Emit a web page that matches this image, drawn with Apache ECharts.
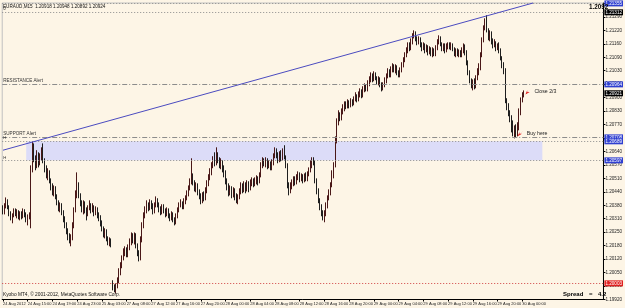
<!DOCTYPE html>
<html><head><meta charset="utf-8">
<script src="https://cdn.jsdelivr.net/npm/echarts@6/dist/echarts.min.js"></script>
<style>html,body{margin:0;padding:0;background:#fdf5e6;}#c{width:625px;height:308px;}</style>
</head><body><div id="c"></div>
<script>
const symbolName = 'EURAUD,M15';
const xTickLabels = ['24 Aug 2012','24 Aug 15:00','24 Aug 19:00','24 Aug 23:00','25 Aug 03:00','27 Aug 08:00','27 Aug 12:00','27 Aug 16:00','27 Aug 20:00','28 Aug 00:00','28 Aug 04:00','28 Aug 08:00','28 Aug 12:00','28 Aug 16:00','28 Aug 20:00','29 Aug 00:00','29 Aug 04:00','29 Aug 08:00','29 Aug 12:00','29 Aug 16:00','29 Aug 20:00','30 Aug 00:00'];
const barsPerLabel = 16;
const totalSlots = 389;
const yTickLabels = ['1.19920','1.19990','1.20050','1.20120','1.20180','1.20250','1.20310','1.20380','1.20440','1.20510','1.20570','1.20640','1.20700','1.20770','1.20830','1.20900','1.20960','1.21030','1.21090','1.21160','1.21220','1.21290','1.21350'];
const yMin = 1.19925, yMax = 1.21357, yStep = 0.00065;

const opens = [1.20365,1.20346,1.20375,1.20399,1.20370,1.20341,1.20317,1.20332,1.20356,1.20336,1.20346,1.20322,1.20341,1.20327,1.20351,1.20336,1.20312,1.20327,1.20336,1.20549,
1.20646,1.20607,1.20573,1.20621,1.20588,1.20612,1.20636,1.20597,1.20559,1.20525,1.20539,1.20501,1.20472,1.20443,1.20462,1.20423,1.20394,1.20365,1.20380,1.20346,
1.20317,1.20283,1.20259,1.20230,1.20211,1.20220,1.20283,1.20356,1.20428,1.20476,1.20428,1.20390,1.20365,1.20385,1.20356,1.20336,1.20365,1.20380,1.20356,1.20370,
1.20346,1.20361,1.20336,1.20317,1.20298,1.20269,1.20240,1.20254,1.20220,1.20201,1.20211,1.20008,1.19989,1.19974,1.19993,1.20018,1.20056,1.20090,1.20124,1.20153,
1.20163,1.20143,1.20172,1.20201,1.20230,1.20211,1.20235,1.20187,1.20153,1.20124,1.20211,1.20283,1.20332,1.20356,1.20380,1.20365,1.20394,1.20375,1.20356,1.20380,
1.20404,1.20385,1.20365,1.20346,1.20370,1.20356,1.20336,1.20356,1.20332,1.20317,1.20336,1.20312,1.20298,1.20327,1.20356,1.20380,1.20390,1.20370,1.20394,1.20414,
1.20433,1.20462,1.20491,1.20520,1.20491,1.20462,1.20476,1.20443,1.20423,1.20404,1.20428,1.20414,1.20452,1.20481,1.20510,1.20539,1.20568,1.20597,1.20583,1.20621,
1.20597,1.20573,1.20588,1.20559,1.20539,1.20501,1.20472,1.20443,1.20462,1.20433,1.20452,1.20423,1.20404,1.20418,1.20447,1.20472,1.20452,1.20476,1.20457,1.20481,
1.20462,1.20486,1.20501,1.20481,1.20496,1.20510,1.20496,1.20525,1.20568,1.20597,1.20578,1.20597,1.20568,1.20583,1.20559,1.20583,1.20617,1.20646,1.20621,1.20597,
1.20626,1.20607,1.20636,1.20612,1.20573,1.20476,1.20452,1.20472,1.20486,1.20510,1.20491,1.20510,1.20525,1.20505,1.20520,1.20501,1.20520,1.20505,1.20530,1.20549,
1.20573,1.20597,1.20588,1.20501,1.20452,1.20404,1.20375,1.20346,1.20317,1.20336,1.20380,1.20414,1.20443,1.20476,1.20525,1.20573,1.20694,1.20781,1.20815,1.20800,
1.20829,1.20848,1.20868,1.20858,1.20877,1.20863,1.20882,1.20873,1.20892,1.20906,1.20892,1.20911,1.20926,1.20911,1.20935,1.20955,1.20940,1.20964,1.20984,1.21003,
1.20988,1.21008,1.20993,1.20974,1.20988,1.20964,1.20945,1.20959,1.20984,1.21003,1.21022,1.21008,1.21032,1.21051,1.21032,1.21042,1.21022,1.21008,1.21032,1.21056,
1.21080,1.21104,1.21129,1.21153,1.21138,1.21167,1.21196,1.21211,1.21186,1.21167,1.21182,1.21157,1.21138,1.21153,1.21129,1.21143,1.21119,1.21133,1.21114,1.21129,
1.21109,1.21138,1.21167,1.21186,1.21157,1.21138,1.21153,1.21129,1.21148,1.21157,1.21143,1.21153,1.21133,1.21114,1.21129,1.21109,1.21119,1.21104,1.21129,1.21148,
1.21119,1.21071,1.21022,1.20984,1.20959,1.20974,1.20955,1.20993,1.21022,1.21042,1.21104,1.21177,1.21235,1.21264,1.21225,1.21186,1.21211,1.21177,1.21153,1.21167,
1.21138,1.21157,1.21129,1.21090,1.21056,1.21032,1.20887,1.20858,1.20829,1.20800,1.20761,1.20732,1.20752,1.20723,1.20761,1.20829,1.20887,1.20911];

const closes = [1.20346,1.20375,1.20399,1.20370,1.20341,1.20317,1.20332,1.20356,1.20336,1.20346,1.20322,1.20341,1.20327,1.20351,1.20336,1.20312,1.20327,1.20336,1.20549,1.20646,
1.20607,1.20573,1.20621,1.20588,1.20612,1.20636,1.20597,1.20559,1.20525,1.20539,1.20501,1.20472,1.20443,1.20462,1.20423,1.20394,1.20365,1.20380,1.20346,1.20317,
1.20283,1.20259,1.20230,1.20211,1.20220,1.20283,1.20356,1.20428,1.20476,1.20428,1.20390,1.20365,1.20385,1.20356,1.20336,1.20365,1.20380,1.20356,1.20370,1.20346,
1.20361,1.20336,1.20317,1.20298,1.20269,1.20240,1.20254,1.20220,1.20201,1.20211,1.20191,1.19989,1.19974,1.19993,1.20018,1.20056,1.20090,1.20124,1.20153,1.20163,
1.20143,1.20172,1.20201,1.20230,1.20211,1.20235,1.20187,1.20153,1.20124,1.20211,1.20283,1.20332,1.20356,1.20380,1.20365,1.20394,1.20375,1.20356,1.20380,1.20404,
1.20385,1.20365,1.20346,1.20370,1.20356,1.20336,1.20356,1.20332,1.20317,1.20336,1.20312,1.20298,1.20327,1.20356,1.20380,1.20390,1.20370,1.20394,1.20414,1.20433,
1.20462,1.20491,1.20520,1.20491,1.20462,1.20476,1.20443,1.20423,1.20404,1.20428,1.20414,1.20452,1.20481,1.20510,1.20539,1.20568,1.20597,1.20583,1.20621,1.20597,
1.20573,1.20588,1.20559,1.20539,1.20501,1.20472,1.20443,1.20462,1.20433,1.20452,1.20423,1.20404,1.20418,1.20447,1.20472,1.20452,1.20476,1.20457,1.20481,1.20462,
1.20486,1.20501,1.20481,1.20496,1.20510,1.20496,1.20525,1.20568,1.20597,1.20578,1.20597,1.20568,1.20583,1.20559,1.20583,1.20617,1.20646,1.20621,1.20597,1.20626,
1.20607,1.20636,1.20612,1.20573,1.20476,1.20452,1.20472,1.20486,1.20510,1.20491,1.20510,1.20525,1.20505,1.20520,1.20501,1.20520,1.20505,1.20530,1.20549,1.20573,
1.20597,1.20588,1.20501,1.20452,1.20404,1.20375,1.20346,1.20317,1.20336,1.20380,1.20414,1.20443,1.20476,1.20525,1.20573,1.20694,1.20781,1.20815,1.20800,1.20829,
1.20848,1.20868,1.20858,1.20877,1.20863,1.20882,1.20873,1.20892,1.20906,1.20892,1.20911,1.20926,1.20911,1.20935,1.20955,1.20940,1.20964,1.20984,1.21003,1.20988,
1.21008,1.20993,1.20974,1.20988,1.20964,1.20945,1.20959,1.20984,1.21003,1.21022,1.21008,1.21032,1.21051,1.21032,1.21042,1.21022,1.21008,1.21032,1.21056,1.21080,
1.21104,1.21129,1.21153,1.21138,1.21167,1.21196,1.21211,1.21186,1.21167,1.21182,1.21157,1.21138,1.21153,1.21129,1.21143,1.21119,1.21133,1.21114,1.21129,1.21109,
1.21138,1.21167,1.21186,1.21157,1.21138,1.21153,1.21129,1.21148,1.21157,1.21143,1.21153,1.21133,1.21114,1.21129,1.21109,1.21119,1.21104,1.21129,1.21148,1.21119,
1.21071,1.21022,1.20984,1.20959,1.20974,1.20955,1.20993,1.21022,1.21042,1.21104,1.21177,1.21235,1.21264,1.21225,1.21186,1.21211,1.21177,1.21153,1.21167,1.21138,
1.21157,1.21129,1.21090,1.21056,1.21032,1.20887,1.20858,1.20829,1.20800,1.20761,1.20732,1.20752,1.20723,1.20761,1.20829,1.20887,1.20911,1.20921];

const lows = [1.20336,1.20336,1.20365,1.20361,1.20327,1.20307,1.20293,1.20322,1.20327,1.20317,1.20312,1.20307,1.20312,1.20317,1.20322,1.20298,1.20283,1.20312,1.20269,1.20539,
1.20588,1.20549,1.20559,1.20563,1.20573,1.20597,1.20583,1.20539,1.20510,1.20501,1.20486,1.20452,1.20428,1.20423,1.20409,1.20380,1.20351,1.20346,1.20332,1.20298,
1.20269,1.20240,1.20211,1.20196,1.20182,1.20211,1.20269,1.20346,1.20414,1.20414,1.20375,1.20346,1.20336,1.20341,1.20307,1.20327,1.20356,1.20341,1.20346,1.20327,
1.20332,1.20317,1.20303,1.20278,1.20254,1.20225,1.20220,1.20206,1.20187,1.20182,1.20177,1.19969,1.19960,1.19955,1.19979,1.20003,1.20042,1.20076,1.20114,1.20134,
1.20129,1.20129,1.20163,1.20187,1.20196,1.20191,1.20172,1.20134,1.20109,1.20114,1.20201,1.20269,1.20317,1.20341,1.20351,1.20356,1.20361,1.20336,1.20341,1.20370,
1.20370,1.20346,1.20332,1.20336,1.20341,1.20322,1.20327,1.20317,1.20303,1.20307,1.20298,1.20283,1.20288,1.20317,1.20346,1.20370,1.20361,1.20361,1.20385,1.20404,
1.20423,1.20452,1.20481,1.20476,1.20447,1.20443,1.20428,1.20409,1.20385,1.20390,1.20399,1.20404,1.20438,1.20472,1.20501,1.20525,1.20559,1.20568,1.20573,1.20583,
1.20559,1.20554,1.20539,1.20515,1.20481,1.20452,1.20423,1.20428,1.20414,1.20418,1.20404,1.20390,1.20385,1.20409,1.20433,1.20438,1.20443,1.20438,1.20447,1.20443,
1.20452,1.20472,1.20467,1.20472,1.20481,1.20476,1.20486,1.20515,1.20559,1.20568,1.20563,1.20554,1.20559,1.20549,1.20549,1.20573,1.20607,1.20607,1.20583,1.20588,
1.20592,1.20597,1.20602,1.20559,1.20462,1.20428,1.20438,1.20457,1.20472,1.20476,1.20481,1.20501,1.20491,1.20496,1.20486,1.20491,1.20496,1.20496,1.20520,1.20539,
1.20559,1.20573,1.20486,1.20433,1.20390,1.20356,1.20327,1.20307,1.20298,1.20327,1.20365,1.20404,1.20428,1.20467,1.20510,1.20563,1.20679,1.20766,1.20786,1.20790,
1.20819,1.20834,1.20844,1.20848,1.20848,1.20853,1.20858,1.20863,1.20882,1.20877,1.20882,1.20901,1.20897,1.20901,1.20926,1.20930,1.20930,1.20955,1.20974,1.20974,
1.20979,1.20984,1.20964,1.20959,1.20950,1.20930,1.20935,1.20950,1.20969,1.20993,1.20998,1.20998,1.21022,1.21022,1.21017,1.21008,1.20998,1.20998,1.21022,1.21046,
1.21071,1.21095,1.21114,1.21124,1.21129,1.21157,1.21186,1.21172,1.21153,1.21157,1.21143,1.21124,1.21129,1.21114,1.21119,1.21104,1.21109,1.21100,1.21095,1.21100,
1.21100,1.21129,1.21157,1.21148,1.21124,1.21124,1.21114,1.21119,1.21133,1.21133,1.21129,1.21124,1.21100,1.21095,1.21100,1.21095,1.21095,1.21095,1.21114,1.21104,
1.21056,1.21008,1.20969,1.20945,1.20935,1.20940,1.20945,1.20984,1.21008,1.21032,1.21095,1.21167,1.21225,1.21215,1.21177,1.21172,1.21157,1.21138,1.21143,1.21124,
1.21129,1.21114,1.21080,1.21042,1.21013,1.20873,1.20839,1.20810,1.20781,1.20732,1.20713,1.20703,1.20708,1.20713,1.20742,1.20815,1.20877,1.20901];

const highs = [1.20380,1.20390,1.20418,1.20409,1.20380,1.20351,1.20341,1.20365,1.20365,1.20361,1.20356,1.20351,1.20351,1.20365,1.20361,1.20346,1.20336,1.20346,1.20573,1.20689,
1.20679,1.20621,1.20646,1.20636,1.20631,1.20660,1.20679,1.20607,1.20573,1.20559,1.20549,1.20510,1.20486,1.20476,1.20472,1.20433,1.20404,1.20394,1.20390,1.20356,
1.20327,1.20298,1.20269,1.20245,1.20240,1.20298,1.20370,1.20452,1.20539,1.20491,1.20438,1.20404,1.20404,1.20399,1.20370,1.20380,1.20404,1.20390,1.20390,1.20380,
1.20375,1.20370,1.20346,1.20332,1.20307,1.20278,1.20269,1.20264,1.20230,1.20225,1.20220,1.20018,1.19998,1.20003,1.20032,1.20076,1.20105,1.20138,1.20172,1.20182,
1.20177,1.20191,1.20220,1.20249,1.20245,1.20249,1.20245,1.20196,1.20163,1.20230,1.20298,1.20346,1.20375,1.20404,1.20394,1.20409,1.20404,1.20390,1.20394,1.20423,
1.20414,1.20394,1.20375,1.20385,1.20385,1.20365,1.20370,1.20365,1.20341,1.20351,1.20346,1.20322,1.20341,1.20370,1.20394,1.20409,1.20399,1.20414,1.20428,1.20452,
1.20476,1.20510,1.20607,1.20534,1.20501,1.20491,1.20486,1.20457,1.20438,1.20443,1.20447,1.20467,1.20501,1.20530,1.20559,1.20588,1.20617,1.20636,1.20660,1.20636,
1.20612,1.20607,1.20597,1.20573,1.20549,1.20510,1.20486,1.20476,1.20472,1.20467,1.20462,1.20438,1.20433,1.20462,1.20491,1.20486,1.20496,1.20491,1.20501,1.20496,
1.20505,1.20515,1.20510,1.20515,1.20525,1.20520,1.20539,1.20588,1.20612,1.20607,1.20612,1.20607,1.20597,1.20592,1.20602,1.20631,1.20660,1.20655,1.20636,1.20641,
1.20646,1.20655,1.20670,1.20621,1.20583,1.20491,1.20491,1.20505,1.20520,1.20520,1.20530,1.20544,1.20539,1.20534,1.20530,1.20534,1.20539,1.20544,1.20563,1.20597,
1.20612,1.20612,1.20597,1.20510,1.20462,1.20414,1.20385,1.20356,1.20356,1.20394,1.20428,1.20457,1.20491,1.20549,1.20588,1.20713,1.20800,1.20839,1.20829,1.20848,
1.20868,1.20882,1.20882,1.20892,1.20887,1.20897,1.20892,1.20906,1.20926,1.20916,1.20930,1.20945,1.20940,1.20955,1.20969,1.20964,1.20984,1.21003,1.21022,1.21017,
1.21027,1.21022,1.21003,1.21003,1.20998,1.20974,1.20974,1.20998,1.21017,1.21042,1.21037,1.21051,1.21066,1.21061,1.21061,1.21056,1.21032,1.21046,1.21071,1.21095,
1.21119,1.21143,1.21167,1.21167,1.21186,1.21211,1.21225,1.21220,1.21196,1.21196,1.21191,1.21167,1.21167,1.21162,1.21157,1.21153,1.21148,1.21143,1.21143,1.21138,
1.21153,1.21182,1.21201,1.21196,1.21167,1.21162,1.21162,1.21162,1.21167,1.21167,1.21167,1.21162,1.21143,1.21138,1.21138,1.21133,1.21129,1.21143,1.21162,1.21157,
1.21129,1.21080,1.21032,1.20993,1.20988,1.20993,1.21008,1.21042,1.21066,1.21119,1.21191,1.21249,1.21283,1.21298,1.21235,1.21225,1.21220,1.21186,1.21182,1.21172,
1.21162,1.21167,1.21138,1.21100,1.21071,1.21042,1.20897,1.20873,1.20839,1.20815,1.20790,1.20766,1.20771,1.20781,1.20848,1.20901,1.20926,1.20935];

// annotation levels (prices)
const topLine = 1.21355, upperLine = 1.21312, resistanceLevel = 1.20964, bidPrice = 1.20921;
const supportLevel = 1.20708, zoneTop = 1.20689, zoneBottom = 1.20597, redLevel = 1.20003;
const zoneStartIdx = 15, zoneEndIdx = 349;
const trendStart = [0, 1.20646], trendEnd = [343, 1.21357];
const closeMark = [340, 1.20930], buyMark = [335, 1.20728];
const spreadValue = '4.2', bigPrice = '1.2092';

const categories = [];
for (let i = 0; i < totalSlots; i++) {
  categories.push(i % barsPerLabel === 0 && i / barsPerLabel < xTickLabels.length ? xTickLabels[i / barsPerLabel] : '');
}
const candleData = opens.map((o, i) => [o, closes[i], lows[i], highs[i]]);

const FONT = "'Liberation Sans','Arial',sans-serif";
function dotted() { return {color: '#8c8c8c', type: [1, 2], width: 1, opacity: 1}; }
function dashDot() { return {color: '#8c8c8c', type: [5, 2, 1, 2], width: 1, opacity: 1}; }
function clear() { return {color: 'rgba(0,0,0,0)', width: 1, type: 'solid'}; }
function boxLabel(bg, v) {
  return {show: true, position: 'end', align: 'left', formatter: v.toFixed(5), color: '#fff', backgroundColor: bg,
          fontSize: 4.6, fontFamily: FONT, padding: [1, 1, 0, 1], distance: 1};
}
function leftText(t, size) {
  return {show: true, position: 'insideStartTop', formatter: t, fontSize: size, color: '#333', fontFamily: FONT, distance: 1};
}
function hLine(v, style, label) { return {yAxis: v, lineStyle: style, label: label}; }

const chart = echarts.init(document.getElementById('c'), null, {renderer: 'canvas'});
chart.setOption({
  animation: false,
  backgroundColor: '#fdf5e6',
  grid: {left: 1.7, right: 15, top: 3, bottom: 8.5, show: true, borderColor: '#c0c0c0', borderWidth: 1},
  xAxis: {
    type: 'category', data: categories, boundaryGap: true,
    axisLine: {lineStyle: {color: '#000', width: 1}},
    axisTick: {show: true, length: 2, alignWithLabel: true, interval: (i, v) => v !== '', lineStyle: {color: '#000'}},
    axisLabel: {interval: (i, v) => v !== '', showMinLabel: true, hideOverlap: false, align: 'left', margin: 2, fontSize: 4, color: '#222', fontFamily: FONT},
    splitLine: {show: false}
  },
  yAxis: {
    type: 'value', position: 'right', min: yMin, max: yMax, interval: yStep, scale: true,
    axisLine: {show: true, lineStyle: {color: '#000', width: 1}},
    axisTick: {show: true, length: 2, lineStyle: {color: '#000'}},
    axisLabel: {margin: 2, fontSize: 4.6, color: '#222', fontFamily: FONT,
      formatter: (v) => yTickLabels[Math.round((v - yMin) / yStep)] || ''},
    splitLine: {show: false}
  },
  series: [
    {
      type: 'line', data: [], z: 1, silent: true,
      markArea: {silent: true, itemStyle: {color: '#dcdcf8', opacity: 1},
        data: [[{coord: [zoneStartIdx, zoneTop]}, {coord: [zoneEndIdx, zoneBottom]}]]}
    },
    {
      type: 'candlestick', data: candleData, barWidth: 1, z: 3,
      itemStyle: {color: '#7a2e2e', color0: '#d6d0c6', borderColor: '#4a1818', borderColor0: '#1e1e1e', borderWidth: 1},
      markLine: {silent: true, symbol: 'none', animation: false, precision: 5,
        data: [
          hLine(topLine, dotted(), boxLabel('#2f3fd0', topLine)),
          hLine(upperLine, dotted(), boxLabel('#000', upperLine)),
          hLine(upperLine, clear(), leftText('0', 4.5)),
          hLine(resistanceLevel, dashDot(), boxLabel('#2f3fd0', resistanceLevel)),
          hLine(resistanceLevel, clear(), leftText('RESISTANCE Alert', 4.6)),
          hLine(bidPrice, clear(), boxLabel('#000', bidPrice)),
          hLine(supportLevel, dashDot(), boxLabel('#2f3fd0', supportLevel)),
          hLine(supportLevel, clear(), leftText('SUPPORT Alert', 4.6)),
          hLine(zoneTop, dotted(), boxLabel('#2f3fd0', zoneTop)),
          hLine(zoneTop, clear(), leftText('H', 4.2)),
          hLine(zoneBottom, dotted(), boxLabel('#2f3fd0', zoneBottom)),
          hLine(zoneBottom, clear(), leftText('H', 4.2)),
          hLine(redLevel, {color: '#d04040', type: [1, 2], width: 1}, boxLabel('#e02020', redLevel)),
          [{coord: trendStart, lineStyle: {color: '#4b4bc0', width: 1, type: 'solid'}, label: {show: false}}, {coord: trendEnd}]
        ]},
      markPoint: {silent: true, symbol: 'path://M10,0 L4,6 L7,6 L0,10 L3,3 L3,7 Z', symbolSize: 6,
        itemStyle: {color: '#e01010'},
        data: [
          {coord: closeMark, label: {show: true, position: 'right', formatter: 'Close 2/3', fontSize: 5.2, color: '#222', fontFamily: FONT, distance: 3}},
          {coord: buyMark, label: {show: true, position: 'right', formatter: 'Buy here', fontSize: 5.2, color: '#222', fontFamily: FONT, distance: 3}}
        ]}
    }
  ],
  graphic: [
    {type: 'text', left: 3, top: 4, style: {text: symbolName + '  1.20918 1.20948 1.20892 1.20924', fontSize: 4.6, fill: '#111', fontFamily: FONT}},
    {type: 'text', left: 589, top: 4, z: 100, style: {text: bigPrice, fontSize: 6.3, fontWeight: 'bold', fill: '#000', fontFamily: FONT}},
    {type: 'text', left: 3, top: 292, style: {text: 'Kyobo MT4, \u00a9 2001-2012, MetaQuotes Software Corp.', fontSize: 4.8, fill: '#111', fontFamily: FONT}},
    {type: 'text', left: 563, top: 291, z: 100, style: {text: 'Spread', fontSize: 6, fontWeight: 'bold', fill: '#000', fontFamily: FONT}},
    {type: 'text', left: 589, top: 291, z: 100, style: {text: '=', fontSize: 6, fontWeight: 'bold', fill: '#000', fontFamily: FONT}},
    {type: 'text', left: 598, top: 291, z: 100, style: {text: spreadValue, fontSize: 6, fontWeight: 'bold', fill: '#000', fontFamily: FONT}}
  ]
});
</script></body></html>
